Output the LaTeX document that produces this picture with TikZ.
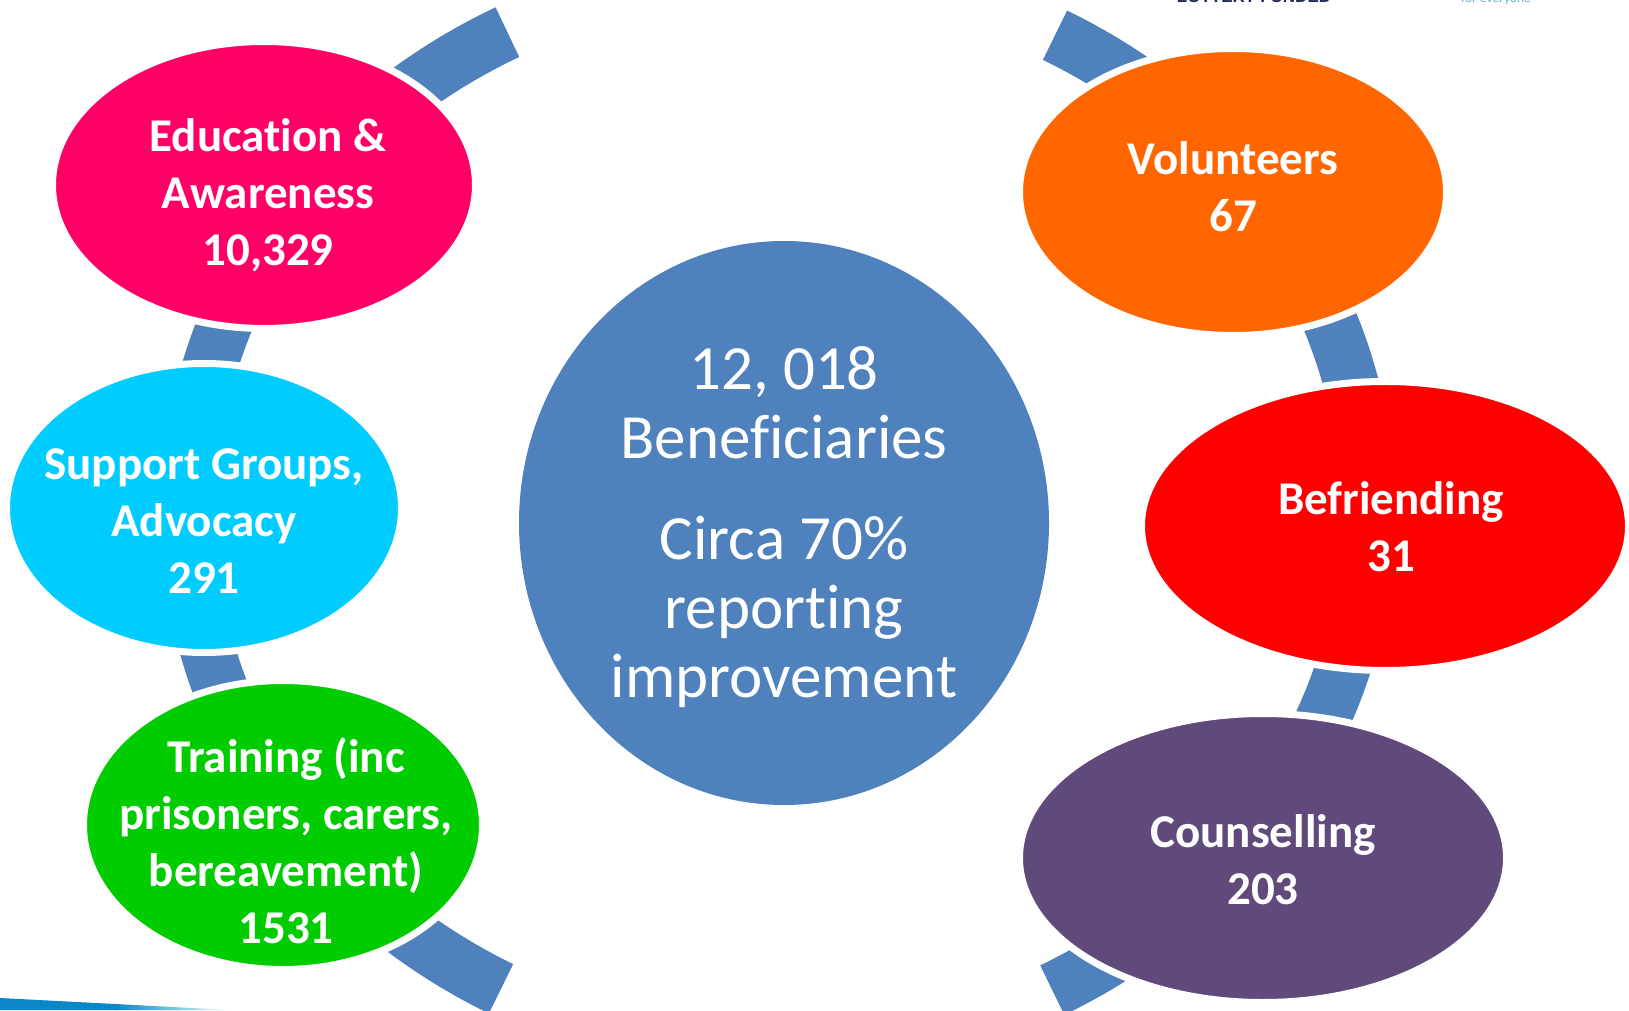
\documentclass[tikz,border=0pt]{standalone}
\usepackage{fontspec}
\setmainfont{Carlito}[Ligatures={NoCommon}]
\newfontfamily\logofont{Liberation Sans}
\usetikzlibrary{shapes.geometric}
\definecolor{ringblue}{HTML}{4F81BD}
\definecolor{edupink}{HTML}{FF0066}
\definecolor{supcyan}{HTML}{00CCFF}
\definecolor{trngreen}{HTML}{00CC00}
\definecolor{volorange}{HTML}{FF6600}
\definecolor{befred}{HTML}{FF0000}
\definecolor{coupurple}{HTML}{604A7B}
\definecolor{logonavy}{HTML}{1F2A5C}
\definecolor{logoteal}{HTML}{6AAFCF}
\definecolor{sliverblue}{HTML}{0B87C9}
\begin{document}
\begin{tikzpicture}[x=1pt,y=1pt,
  blob/.style={ellipse, draw=white, line width=7pt, inner sep=0pt},
  lbl/.style={text=white, font=\bfseries\fontsize{47}{57}\selectfont, align=center, inner sep=0pt},
  ctext/.style={text=white, font=\fontsize{63}{69}\selectfont, align=center, inner sep=0pt},
  ringarc/.style={draw=ringblue, line width=55pt}]
\useasboundingbox (0,0) rectangle (1629,1010);
\clip (0,0) rectangle (1629,1010);
\fill[white] (0,0) rectangle (1629,1010);
% background ring pieces
\coordinate (rc) at (778,498);
\draw[ringarc] (rc) ++(117.3:590pt and 540pt) arc[start angle=117.3, end angle=242, x radius=590pt, y radius=540pt];
\draw[ringarc] (rc) ++(62:590pt and 540pt) arc[start angle=62, end angle=-62.3, x radius=590pt, y radius=540pt];
% ellipses
\node[blob, fill=edupink, minimum width=423pt, minimum height=287pt] (edu) at (264,825) {};
\node[blob, fill=supcyan, minimum width=395pt, minimum height=289pt] (sup) at (204,502) {};
\node[blob, fill=trngreen, minimum width=399pt, minimum height=289pt] (trn) at (283,185) {};
\node[ellipse, fill=ringblue, inner sep=0pt, minimum width=530pt, minimum height=564pt] (ctr) at (784,487) {};
\node[blob, fill=volorange, minimum width=427pt, minimum height=287pt] (vol) at (1233,818) {};
\node[blob, fill=befred, minimum width=487pt, minimum height=289pt] (bef) at (1385,484) {};
\node[blob, fill=coupurple, minimum width=487pt, minimum height=289pt] (cou) at (1263,152) {};
% labels
\node[lbl] (edut) at (268,815) {Education \&\\Awareness\\10,329};
\node[lbl] (supt) at (204,489) {Support Groups,\\Advocacy\\291};
\node[lbl] (trnt) at (286,169) {Training (inc\\prisoners, carers,\\bereavement)\\1531};
\node[lbl] (volt) at (1233,823) {Volunteers\\67};
\node[lbl] (beft) at (1391,483) {Befriending\\31};
\node[lbl] (cout) at (1263,150) {Counselling\\203};
\node[ctext] (ctrt) at (784,483) {12, 018\\Beneficiaries\\[32pt]Circa 70\%\\reporting\\improvement};
% partial logo texts at the top edge
\node[font=\logofont\bfseries\fontsize{17}{17}\selectfont, text=logonavy, anchor=base, inner sep=0pt] (lot) at (1254,1007) {LOTTERY FUNDED};
\node[font=\fontsize{13.5}{14}\selectfont, text=logoteal, anchor=base, inner sep=0pt] (fev) at (1496,1007) {for everyone};
% blue sliver bottom-left
\fill[sliverblue] (0,0) -- (0,12) -- (116,5.95) -- (116,0) -- cycle;
\shade[left color=sliverblue, right color=cyan!8] (115.5,0) -- (115.5,5.98) -- (230,0) -- cycle;
\end{tikzpicture}
\end{document}
